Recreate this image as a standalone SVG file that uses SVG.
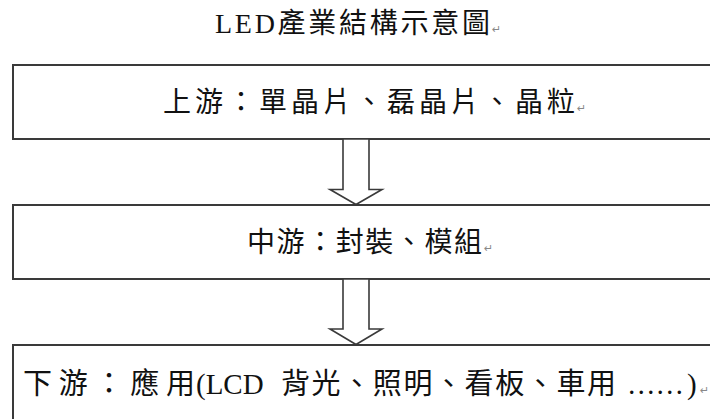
<svg xmlns="http://www.w3.org/2000/svg" width="710" height="419" viewBox="0 0 710 419">
<style>
.box{fill:#fff;stroke:#3a3a3a;stroke-width:2}
.arr{fill:#fff;stroke:#3a3a3a;stroke-width:1.6;stroke-linejoin:miter}
.t{font-family:"Liberation Serif","Noto Sans CJK TC",serif;fill:#111;font-size:28px}
.pm{font-family:"DejaVu Sans",sans-serif;font-size:11px;fill:#888}
</style>
<rect width="710" height="419" fill="#fff"/>
<g id="title">
<text class="t" x="215" y="33" textLength="275" lengthAdjust="spacing">LED產業結構示意圖</text>
<text class="pm" x="492" y="33">↵</text>
</g>
<g id="upstream">
<rect class="box" x="13" y="65" width="760" height="74"/>
<text class="t" x="163" y="112" textLength="412" lengthAdjust="spacing">上游：單晶片、磊晶片、晶粒</text>
<text class="pm" x="577" y="112">↵</text>
</g>
<g id="midstream">
<rect class="box" x="13" y="205" width="760" height="74"/>
<text class="t" x="247" y="252" textLength="235" lengthAdjust="spacing">中游：封裝、模組</text>
<text class="pm" x="484" y="252">↵</text>
</g>
<g id="downstream">
<rect class="box" x="13" y="345" width="760" height="100"/>
<text class="t" y="394" style="font-size:29px"><tspan x="23" textLength="172" lengthAdjust="spacing">下游：應用</tspan><tspan x="196">(LCD</tspan><tspan x="281" textLength="335" lengthAdjust="spacing">背光、照明、看板、車用</tspan><tspan x="627" textLength="57" lengthAdjust="spacingAndGlyphs">……</tspan><tspan x="687">)</tspan></text>
<text class="pm" x="700" y="394">↵</text>
</g>
<g id="connectors">
<polygon class="arr" points="343,139 369,139 369,189.5 382,189.5 356,204.5 330,189.5 343,189.5"/>
<polygon class="arr" points="343,279 369,279 369,329 382,329 356,344.5 330,329 343,329"/>
</g>
</svg>
